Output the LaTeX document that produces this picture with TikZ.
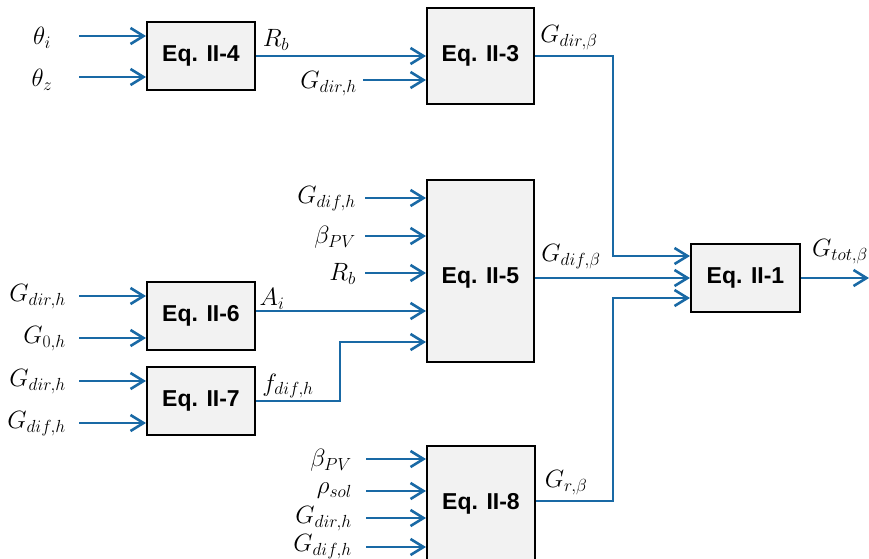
\RequirePackage{fix-cm}
\documentclass[tikz,border=0pt]{standalone}
\usepackage{fontspec}
\newfontfamily\eqfont{Liberation Sans}
\usetikzlibrary{arrows.meta,positioning}
\definecolor{flowblue}{RGB}{25,105,165}
\definecolor{boxgray}{RGB}{242,242,242}
\tikzset{
	eqbox/.style={draw=black,line width=2pt,fill=boxgray,inner sep=0pt,font=\eqfont\bfseries\fontsize{23}{27}\selectfont},
	flow/.style={draw=flowblue,line width=2.6pt,-{Straight Barb[length=13pt,width=16pt]}},
	lab/.style={inner sep=0pt,font=\fontsize{25}{29}\selectfont},
}
\begin{document}
\begin{tikzpicture}[x=1pt,y=-1pt]
	\clip (0,0) rectangle (869,558); %page
	
	%boxes
	\node[eqbox,minimum width=108pt,minimum height=68pt] (eq4) at (201,56) {Eq. II-4};
	\node[eqbox,minimum width=107pt,minimum height=96pt] (eq3) at (480.5,56) {Eq. II-3};
	\node[eqbox,minimum width=107pt,minimum height=182pt,text height=30pt,text depth=5pt] (eq5) at (480.5,271) {Eq. II-5};
	\node[eqbox,minimum width=108pt,minimum height=68pt] (eq6) at (201,316) {Eq. II-6};
	\node[eqbox,minimum width=108pt,minimum height=68pt] (eq7) at (201,401) {Eq. II-7};
	\node[eqbox,minimum width=108pt,minimum height=116pt] (eq8) at (481,504) {Eq. II-8};
	\node[eqbox,minimum width=109pt,minimum height=68pt] (eq1) at (745.5,278) {Eq. II-1};
	
	%Eq. II-4-----------------------------------------------
	\coordinate (in4a) at (79,36);
	\coordinate (in4b) at (79,77);
	\node[lab] (thi) at (42,38) {$\theta_i$}; %theta i
	\node[lab] (thz) at (42,80) {$\theta_z$}; %theta z
	\draw[flow] (in4a) -- (in4a -| eq4.west);
	\draw[flow] (in4b) -- (in4b -| eq4.west);
	\draw[flow] (eq4.east) -- (eq3.west); %Rb
	\node[lab] (rb4) at (276,40) {$R_b$}; %Rb label
	
	%Eq. II-3-----------------------------------------------
	\coordinate (in3) at (363,80);
	\node[lab,anchor=east] (gdirh3) at (357,84) {$G_{dir,h}$};
	\draw[flow] (in3) -- (in3 -| eq3.west);
	\coordinate (j1) at (613,256);
	\draw[flow] (eq3.east) -| (j1) -- (j1 -| eq1.west); %Gdir,beta
	\node[lab] (gdirb) at (569,38) {$G_{dir,\beta}$};
	
	%Eq. II-6 and II-7--------------------------------------
	\coordinate (in6a) at (79,296);
	\coordinate (in6b) at (79,338);
	\coordinate (in7a) at (79,381);
	\coordinate (in7b) at (79,423);
	\node[lab,anchor=east] (gdirh6) at (66,297) {$G_{dir,h}$};
	\node[lab,anchor=east] (g0h) at (66,339) {$G_{0,h}$};
	\node[lab,anchor=east] (gdirh7) at (66,382) {$G_{dir,h}$};
	\node[lab,anchor=east] (gdifh7) at (66,424) {$G_{dif,h}$};
	\draw[flow] (in6a) -- (in6a -| eq6.west);
	\draw[flow] (in6b) -- (in6b -| eq6.west);
	\draw[flow] (in7a) -- (in7a -| eq7.west);
	\draw[flow] (in7b) -- (in7b -| eq7.west);
	\draw[flow] ([yshift=5pt]eq6.east) -- ([yshift=5pt]eq6.east -| eq5.west); %Ai
	\node[lab] (ai) at (272,299) {$A_i$};
	\coordinate (j3) at (340,342);
	\draw[flow] (eq7.east) -| (j3) -- (j3 -| eq5.west); %fdif,h
	\node[lab] (fdifh) at (288,386) {$f_{dif,h}$};
	
	%Eq. II-5-----------------------------------------------
	\coordinate (in5a) at (365,198);
	\coordinate (in5b) at (365,236);
	\coordinate (in5c) at (365,273);
	\node[lab,anchor=east] (gdifh5) at (356,199) {$G_{dif,h}$};
	\node[lab,anchor=east] (bpv5) at (356,237) {$\beta_{PV}$};
	\node[lab,anchor=east] (rb5) at (356,274) {$R_b$};
	\draw[flow] (in5a) -- (in5a -| eq5.west);
	\draw[flow] (in5b) -- (in5b -| eq5.west);
	\draw[flow] (in5c) -- (in5c -| eq5.west);
	\draw[flow] (eq5.east |- eq1.west) -- (eq1.west); %Gdif,beta
	\node[lab] (gdifb) at (571,257) {$G_{dif,\beta}$};
	
	%Eq. II-8-----------------------------------------------
	\coordinate (in8a) at (366,459);
	\coordinate (in8b) at (366,491);
	\coordinate (in8c) at (366,518);
	\coordinate (in8d) at (366,547);
	\node[lab,anchor=east] (bpv8) at (352,460) {$\beta_{PV}$};
	\node[lab,anchor=east] (rho) at (352,491) {$\rho_{sol}$};
	\node[lab,anchor=east] (gdirh8) at (352,519) {$G_{dir,h}$};
	\node[lab,anchor=east] (gdifh8) at (352,547) {$G_{dif,h}$};
	\draw[flow] (in8a) -- (in8a -| eq8.west);
	\draw[flow] (in8b) -- (in8b -| eq8.west);
	\draw[flow] (in8c) -- (in8c -| eq8.west);
	\draw[flow] (in8d) -- (in8d -| eq8.west);
	\coordinate (j2) at (613,298);
	\draw[flow] ([yshift=3pt]eq8.east) -| (j2) -- (j2 -| eq1.west); %Gr,beta
	\node[lab] (grb) at (566,483) {$G_{r,\beta}$};
	
	%Eq. II-1-----------------------------------------------
	\coordinate (out1) at (869,278);
	\draw[flow] (eq1.east) -- (out1); %Gtot,beta
	\node[lab] (gtotb) at (840,252) {$G_{tot,\beta}$};
\end{tikzpicture}
\end{document}
